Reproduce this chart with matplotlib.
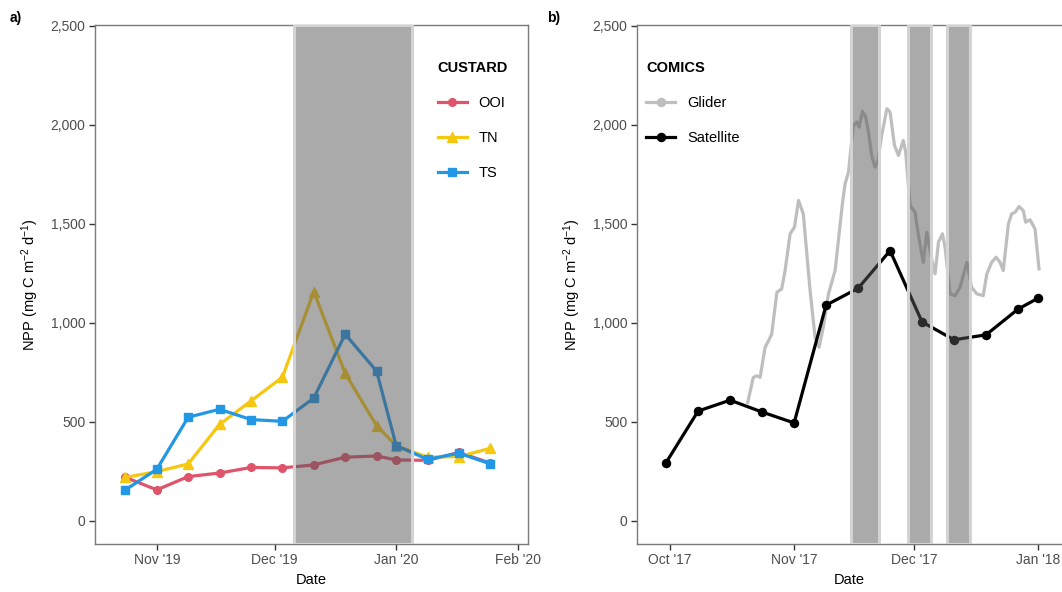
import matplotlib
matplotlib.use('Agg')
import matplotlib.pyplot as plt
import matplotlib.dates as mdates
from matplotlib.lines import Line2D
import pandas as pd

plt.rcParams['font.family'] = ['Liberation Sans', 'DejaVu Sans']
plt.rcParams['mathtext.fontset'] = 'custom'
plt.rcParams['mathtext.rm'] = 'Liberation Sans'
plt.rcParams['mathtext.it'] = 'Liberation Sans:italic'

# CUSTARD 8-day composites
custard_dates = ['2019-10-24', '2019-11-01', '2019-11-09', '2019-11-17', '2019-11-25',
                 '2019-12-03', '2019-12-11', '2019-12-19', '2019-12-27', '2020-01-01',
                 '2020-01-09', '2020-01-17', '2020-01-25']
ooi = [220, 157, 224, 242, 270, 268, 283, 322, 328, 308, 306, 346, 292]
tn = [220, 249, 288, 488, 606, 726, 1158, 746, 481, 380, 322, 325, 367]
ts = [157, 261, 524, 564, 512, 503, 621, 943, 757, 380, 311, 342, 288]
custard_cruise = [('2019-12-06', '2020-01-05')]

# COMICS satellite 8-day composites
sat_dates = ['2017-09-30', '2017-10-08', '2017-10-16', '2017-10-24', '2017-11-01',
             '2017-11-09', '2017-11-17', '2017-11-25', '2017-12-03', '2017-12-11',
             '2017-12-19', '2017-12-27', '2018-01-01']
sat_npp = [295, 555, 610, 550, 495, 1090, 1175, 1365, 1005, 915, 940, 1070, 1125]

# COMICS glider, days since 1 Oct 2017
glider_day = [19.4, 20.8, 21.7, 22.5, 23.75, 24.6, 25.4, 26.7, 27.9, 28.75, 30.0, 31.1,
              32.1, 33.3, 35.0, 36.25, 37.25, 38.3, 39.6, 41.25, 43.1, 43.75, 44.6, 45.8,
              46.7, 47.25, 48.1, 48.9, 49.6, 50.4, 51.25, 51.9, 52.9, 54.2, 55.0, 56.1,
              57.1, 58.3, 58.9, 60.0, 61.25, 62.1, 63.3, 64.2, 65.4, 66.25, 67.1, 68.1,
              68.75, 70.0, 71.25, 72.5, 74.2, 75.4, 76.7, 78.3, 79.2, 80.4, 81.5, 82.5,
              83.3, 84.6, 85.4, 86.25, 87.25, 88.3, 88.9, 90.0, 91.25, 92.25]
glider_npp = [598, 725, 733, 725, 877, 910, 944, 1155, 1172, 1265, 1450, 1484,
              1619, 1551, 1163, 927, 877, 978, 1147, 1265, 1606, 1703, 1762, 1998,
              2015, 1989, 2069, 2040, 1964, 1846, 1787, 1812, 1947, 2082, 2065, 1897,
              1846, 1922, 1863, 1593, 1559, 1442, 1306, 1458, 1324, 1248, 1408, 1450,
              1382, 1147, 1138, 1180, 1306, 1180, 1147, 1138, 1248, 1306, 1332, 1306,
              1265, 1501, 1551, 1559, 1588, 1568, 1509, 1521, 1475, 1273]
comics_cruise = [('2017-11-15 06:00', '2017-11-22 06:00'),
                 ('2017-11-29 09:00', '2017-12-05 06:00'),
                 ('2017-12-09 06:00', '2017-12-15')]

red = '#DF536B'
yellow = '#F5C710'
blue = '#2297E6'
glider_col = '#BEBEBE'

W, H = 1062, 592
fig = plt.figure(figsize=(W / 100, H / 100), dpi=100)
ax1 = fig.add_axes([95 / W, 48.5 / H, 433 / W, 518.5 / H])
ax2 = fig.add_axes([637.3 / W, 48.5 / H, (W - 637.3) / W, 518.5 / H])

cd = pd.to_datetime(custard_dates)
ax1.plot(cd, ooi, color=red, lw=2.3, marker='o', ms=5.5, label='OOI')
ax1.plot(cd, tn, color=yellow, lw=2.3, marker='^', ms=7.5, label='TN')
ax1.plot(cd, ts, color=blue, lw=2.3, marker='s', ms=6.3, label='TS')

gd = pd.Timestamp('2017-10-01') + pd.to_timedelta(glider_day, unit='D')
sd = pd.to_datetime(sat_dates)
ax2.plot(gd, glider_npp, color=glider_col, lw=2.3)
ax2.plot(sd, sat_npp, color='black', lw=2.3, marker='o', ms=5.8)

# cruise periods shaded over the series
for ax, periods in [(ax1, custard_cruise), (ax2, comics_cruise)]:
    for start, end in periods:
        ax.axvspan(pd.Timestamp(start), pd.Timestamp(end), facecolor=(0.34, 0.34, 0.34, 0.5),
                   edgecolor='#D3D3D3', lw=2.2, zorder=5)

ax1.set_xlim(pd.Timestamp('2019-10-16 06:00'), pd.Timestamp('2020-02-03 14:00'))
ax2.set_xlim(pd.Timestamp('2017-09-22 19:00'), pd.Timestamp('2017-09-22 19:00') + pd.Timedelta(days=106.2))
ax1.xaxis.set_major_locator(mdates.MonthLocator())
ax2.xaxis.set_major_locator(mdates.MonthLocator())

for ax in (ax1, ax2):
    ax.set_ylim(-114, 2505)
    ax.set_yticks([0, 500, 1000, 1500, 2000, 2500])
    ax.yaxis.set_major_formatter(matplotlib.ticker.FuncFormatter(lambda v, p: f'{int(v):,}'))
    ax.xaxis.set_major_formatter(mdates.DateFormatter("%b '%y"))
    ax.tick_params(direction='out', length=4, width=1, color='#333333',
                   labelcolor='#4D4D4D', labelsize=10, pad=3)
    for s in ax.spines.values():
        s.set_color('#7A7A7A')
        s.set_linewidth(1)
    ax.set_xlabel('Date', fontsize=10.5)
    ax.set_ylabel('NPP (mg C m$^{-2}$ d$^{-1}$)', fontsize=10.5)
    ax.xaxis.set_label_coords(0.5, -0.056)
ax2.spines['right'].set_visible(False)
ax1.yaxis.set_label_coords(-0.124, 0.5)
ax2.yaxis.set_label_coords(-0.127, 0.5)

legend_kw = dict(loc='upper left', frameon=False, fontsize=10.5,
                 title_fontproperties={'weight': 'bold', 'size': 10.5},
                 alignment='left', borderpad=0, handlelength=2.0, handletextpad=0.8,
                 labelspacing=1.45, numpoints=1)

h1 = [Line2D([], [], color=red, lw=2.3, marker='o', ms=5.5),
      Line2D([], [], color=yellow, lw=2.3, marker='^', ms=7.5),
      Line2D([], [], color=blue, lw=2.3, marker='s', ms=6.3)]
leg1 = ax1.legend(h1, ['OOI', 'TN', 'TS'], title='CUSTARD',
                  bbox_to_anchor=(0.775, 0.945), **legend_kw)
leg1.set_zorder(10)

h2 = [Line2D([], [], color=glider_col, lw=2.3, marker='o', ms=5.8),
      Line2D([], [], color='black', lw=2.3, marker='o', ms=5.8)]
leg2 = ax2.legend(h2, ['Glider', 'Satellite'], title='COMICS',
                  bbox_to_anchor=(0.004, 0.945), **legend_kw)

fig.text(10 / W, 1 - 18 / H, 'a)', fontsize=10, fontweight='bold', va='center')
fig.text(547 / W, 1 - 18 / H, 'b)', fontsize=10, fontweight='bold', va='center')

fig.savefig('out.png', dpi=100)
